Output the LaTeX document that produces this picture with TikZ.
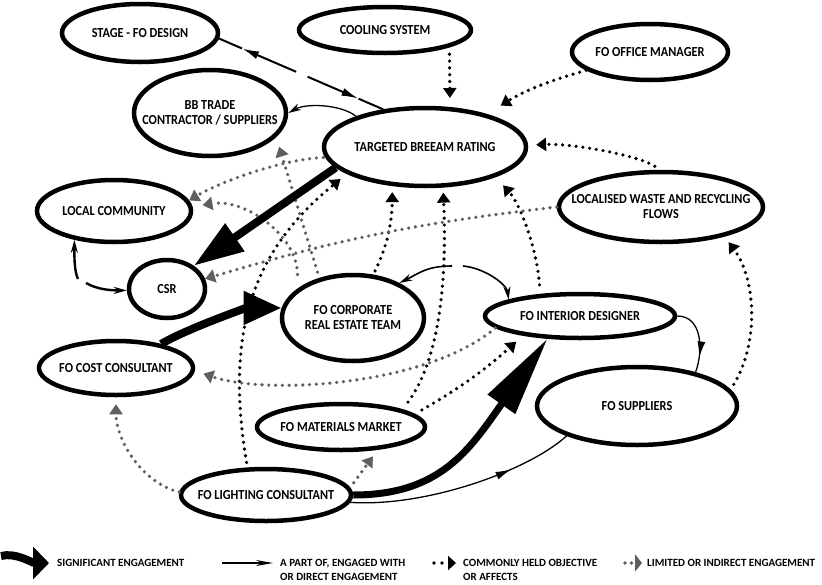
\documentclass[tikz,border=0pt]{standalone}
\usepackage{fontspec}
\setmainfont{Carlito}
\newfontfamily\nodefont{Carlito}[FakeStretch=0.89]
\usetikzlibrary{shapes.geometric,arrows.meta,decorations.markings,calc}
\definecolor{dotgray}{RGB}{95,95,95}
\tikzset{
  ell/.style={ellipse, draw=black, line width=4.5pt, inner xsep=-40pt, inner ysep=0pt, align=center,
    font=\nodefont\fontsize{13.8}{15}\selectfont\bfseries},
  blackdot/.style={draw=black, line width=3.6pt, dash pattern=on 0pt off 6.8pt, line cap=round,
    -{Triangle[length=10pt,width=13pt]}},
  graydot/.style={draw=dotgray, line width=3.6pt, dash pattern=on 0pt off 6.8pt, line cap=round,
    -{Triangle[length=10pt,width=13pt]}},
  thinarrow/.style={draw=black, line width=1.6pt, -{Stealth[length=13pt,width=7pt]}},
  plainline/.style={draw=black, line width=2pt},
  midarrow/.style={draw=black, line width=1.6pt, postaction={decorate},
    decoration={markings, mark=at position #1 with {\arrow{Latex[length=16pt,width=8pt]}}}},
  bigarrow/.style={draw=black, line width=7.5pt, -{Triangle[length=#1,width=32pt]}},
  legendtext/.style={anchor=west, align=left, inner sep=0pt, font=\fontsize{11}{14}\selectfont\bfseries},
}
\begin{document}
\begin{tikzpicture}[x=1pt,y=-1pt]
\path[fill=white] (0,0) rectangle (822,584);
\useasboundingbox (0,0) rectangle (822,584);

% nodes
\node[ell, minimum width=156pt, minimum height=58pt] (stage) at (140,33) {STAGE - FO DESIGN};
\node[ell, minimum width=172pt, minimum height=46pt] (cooling) at (385,30) {COOLING SYSTEM};
\node[ell, minimum width=156pt, minimum height=56pt] (office) at (650,52) {FO OFFICE MANAGER};
\node[ell, minimum width=152pt, minimum height=86pt] (bb) at (210,113) {BB TRADE\\CONTRACTOR / SUPPLIERS};
\node[ell, minimum width=202pt, minimum height=78pt] (breeam) at (425,147) {TARGETED BREEAM RATING};
\node[ell, minimum width=154pt, minimum height=62pt] (local) at (114,211) {LOCAL COMMUNITY};
\node[ell, minimum width=204pt, minimum height=70pt] (waste) at (661,207) {LOCALISED WASTE AND RECYCLING\\FLOWS};
\node[ell, minimum width=76pt, minimum height=58pt] (csr) at (167,289) {CSR};
\node[ell, minimum width=142pt, minimum height=86pt] (corp) at (353,318) {FO CORPORATE\\REAL ESTATE TEAM};
\node[ell, minimum width=190pt, minimum height=44pt] (interior) at (580,316) {FO INTERIOR DESIGNER};
\node[ell, minimum width=154pt, minimum height=54pt] (cost) at (116,368) {FO COST CONSULTANT};
\node[ell, minimum width=200pt, minimum height=78pt] (suppliers) at (637,406) {FO SUPPLIERS};
\node[ell, minimum width=168pt, minimum height=46pt] (materials) at (341,427) {FO MATERIALS MARKET};
\node[ell, minimum width=170pt, minimum height=52pt] (lighting) at (266,495) {FO LIGHTING CONSULTANT};

% stage <-> breeam (split line, arrowheads part way along)
\coordinate (sg1) at ($(stage.-4)!0.47!(breeam.138)$);
\coordinate (sa1) at ($(stage.-4)!0.14!(breeam.138)$);
\coordinate (sg2) at ($(stage.-4)!0.54!(breeam.138)$);
\coordinate (sa2) at ($(stage.-4)!0.85!(breeam.138)$);
\draw[plainline, -{Latex[length=17pt,width=8pt]}] (sg1) -- (sa1);
\draw[plainline] (sa1) -- (stage.-4);
\draw[plainline, -{Latex[length=17pt,width=8pt]}] (sg2) -- (sa2);
\draw[plainline] (sa2) -- (breeam.138);

% breeam -> bb
\draw[thinarrow, line width=1.3pt] (breeam.156) .. controls +(-15,-12) and +(18,-10) .. (bb.0);

% black dotted
\draw[blackdot, shorten <=7pt, shorten >=9pt] (cooling.-15) -- (breeam.58);
\draw[blackdot, shorten >=16pt] (office.196) to[bend right=8] (breeam.28);
\draw[blackdot, shorten <=6pt, shorten >=8pt] (waste.92) .. controls +(-20,-14) and +(45,-2) .. (breeam.1);
\draw[blackdot, shorten <=5pt, shorten >=8pt] (lighting.124) .. controls +(-23,-138) and +(-93,76) .. (breeam.199);
\draw[blackdot, shorten <=4pt, shorten >=6pt] (corp.65) .. controls +(14,-28) and +(0,35) .. (breeam.230);
\draw[blackdot, shorten <=9pt, shorten >=5pt] (materials.16) .. controls +(37,-50) and +(4,93) .. (breeam.294);
\draw[blackdot, shorten <=9pt, shorten >=11pt] (interior.151) .. controls +(-3,-44) and +(25,28) .. (breeam.-23);
\draw[blackdot, shorten <=8pt, shorten >=9pt] (materials.10) to[bend right=6] (interior.199);
\draw[blackdot, shorten <=6pt, shorten >=7pt] (suppliers.10) .. controls +(30,-50) and +(30,40) .. (waste.-25);

% gray dotted
\draw[graydot, shorten <=2pt] (breeam.186) .. controls +(-45,2) and +(30,-18) .. (local.8);
\draw[graydot, shorten <=14pt, shorten >=10pt] (corp.152) .. controls +(0,-53) and +(52,-9) .. (local.3);
\draw[graydot, shorten <=6pt, shorten >=10pt] (corp.130) -- (bb.-20);
\draw[graydot] (waste.180) to[bend right=5] (csr.15);
\draw[graydot, shorten >=9pt] (interior.188) .. controls +(-66,57) and +(73,25) .. (cost.-2);
\draw[graydot, shorten >=7pt] (lighting.178) .. controls +(-35,-8) and +(0,45) .. (cost.270);
\draw[graydot, shorten <=6pt, shorten >=8pt] (lighting.5) -- (materials.-32);

% significant engagement
\draw[bigarrow=50pt, line width=8pt] (breeam.193) -- (csr.41);
\draw[bigarrow=38pt, line width=8pt] (cost.28) .. controls +(25,-15) and +(-35,0) .. (corp.172);
\draw[bigarrow=80pt, line width=7pt] (lighting.0) .. controls +(87,0) and +(-78,111) .. (interior.215);

% direct engagement
\draw[midarrow=0.72, line width=1.3pt] (lighting.-5) .. controls +(77,5) and +(-37,34) .. (suppliers.203);
\draw[midarrow=0.78, line width=1.3pt] (interior.0) .. controls +(25,0) and +(8,-22) .. (suppliers.30);
\coordinate (wl) at (452,266);
\coordinate (wr) at (463,266);
\draw[thinarrow] (wl) .. controls +(-25,0) and +(20,-10) .. (corp.37);
\draw[thinarrow] (wr) .. controls +(22,2) and +(-2,-15) .. (interior.167);
\coordinate (xl) at (78,279);
\coordinate (xr) at (86,283);
\draw[thinarrow, line width=2.4pt] (xl) .. controls +(-4,-8) and +(0,14) .. (local.216);
\draw[thinarrow, line width=2.4pt] (xr) .. controls +(12,7) and +(-14,0) .. (csr.182);

% legend
\coordinate (lg1a) at (1,556);
\coordinate (lg1b) at (49,563);
\draw[bigarrow=16pt, line width=8pt] (lg1a) .. controls +(14,-4) and +(-16,0) .. (lg1b);
\node[legendtext] (lt1) at (57,563) {SIGNIFICANT ENGAGEMENT};
\coordinate (lg2a) at (222,563);
\coordinate (lg2b) at (273,563);
\draw[thinarrow, -{Stealth[length=17pt,width=6pt]}] (lg2a) -- (lg2b);
\node[legendtext] (lt2) at (280,570) {A PART OF, ENGAGED WITH\\OR DIRECT ENGAGEMENT};
\coordinate (lg3a) at (434,563);
\coordinate (lg3b) at (456,563);
\draw[blackdot, dash pattern=on 0pt off 8pt, -{Triangle[length=8pt,width=14pt]}] (lg3a) -- (lg3b);
\node[legendtext] (lt3) at (463,570) {COMMONLY HELD OBJECTIVE\\OR AFFECTS};
\coordinate (lg4a) at (625,563);
\coordinate (lg4b) at (642,563);
\draw[graydot, dash pattern=on 0pt off 6.5pt, -{Triangle[length=7pt,width=17pt]}] (lg4a) -- (lg4b);
\node[legendtext] (lt4) at (647,563) {LIMITED OR INDIRECT ENGAGEMENT};
\end{tikzpicture}
\end{document}
